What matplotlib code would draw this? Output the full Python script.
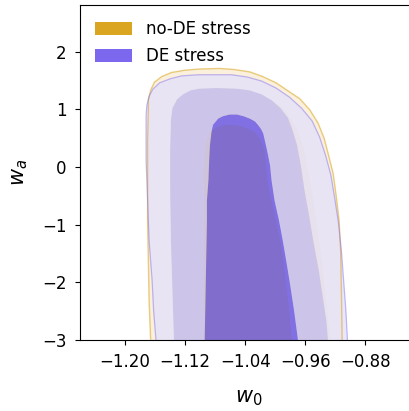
import matplotlib
matplotlib.use("Agg")
import matplotlib.pyplot as plt
from matplotlib.path import Path
from matplotlib.patches import PathPatch, Patch
from matplotlib.ticker import FixedLocator, FuncFormatter
import numpy as np

# Credible-region boundaries in the (w0, wa) plane, outer -> inner.
# Each boundary runs up the left side, over the top and down the right side;
# the regions continue below wa = -3.

# no-DE stress
nodes_outer_w0 = [-1.166, -1.166, -1.168, -1.169, -1.170, -1.170, -1.170, -1.169, -1.169,
                  -1.166, -1.161, -1.151, -1.138, -1.120, -1.100, -1.074, -1.054, -1.034,
                  -1.017, -0.999, -0.983, -0.967, -0.954, -0.943, -0.935, -0.929, -0.923,
                  -0.919, -0.915, -0.913, -0.912, -0.911, -0.911]
nodes_outer_wa = [-3.30, -2.98, -2.32, -1.62, -0.93, -0.23, 0.46, 0.99, 1.16,
                  1.33, 1.47, 1.57, 1.64, 1.68, 1.70, 1.71, 1.69, 1.65,
                  1.57, 1.46, 1.32, 1.18, 0.99, 0.76, 0.50, 0.20, -0.11,
                  -0.49, -0.93, -1.45, -2.14, -2.98, -3.30]

nodes_mid_w0 = [-1.135, -1.135, -1.137, -1.139, -1.140, -1.140, -1.139, -1.137, -1.131,
                -1.123, -1.113, -1.101, -1.078, -1.052, -1.034, -1.018, -1.005, -0.991,
                -0.981, -0.971, -0.963, -0.957, -0.951, -0.946, -0.941, -0.936, -0.932,
                -0.929, -0.927, -0.927]
nodes_mid_wa = [-3.30, -2.98, -2.14, -1.28, -0.41, 0.29, 0.81, 1.02, 1.17,
                1.26, 1.33, 1.36, 1.37, 1.36, 1.33, 1.26, 1.16, 1.04,
                0.88, 0.67, 0.38, 0.03, -0.41, -0.84, -1.31, -1.80, -2.32,
                -2.67, -2.98, -3.30]

nodes_inner_w0 = [-1.095, -1.095, -1.095, -1.095, -1.095, -1.095, -1.096, -1.095, -1.093,
                  -1.090, -1.085, -1.077, -1.067, -1.058, -1.047, -1.037, -1.030, -1.025,
                  -1.019, -1.014, -1.012, -1.010, -1.005, -0.999, -0.993, -0.989, -0.985,
                  -0.981, -0.978, -0.978]
nodes_inner_wa = [-3.30, -2.98, -2.32, -1.62, -1.10, -0.58, -0.14, 0.20, 0.41,
                  0.55, 0.64, 0.70, 0.73, 0.73, 0.72, 0.67, 0.63, 0.58,
                  0.46, 0.29, 0.03, -0.23, -0.58, -0.93, -1.28, -1.62, -2.06,
                  -2.49, -2.98, -3.30]

# DE stress
de_outer_w0 = [-1.159, -1.159, -1.162, -1.164, -1.168, -1.170, -1.172, -1.172, -1.171,
               -1.168, -1.163, -1.154, -1.140, -1.125, -1.103, -1.081, -1.058, -1.037,
               -1.018, -0.999, -0.981, -0.965, -0.951, -0.941, -0.933, -0.926, -0.921,
               -0.916, -0.912, -0.909, -0.906, -0.904, -0.904]
de_outer_wa = [-3.30, -2.98, -2.49, -1.97, -1.28, -0.58, 0.12, 0.90, 1.07,
               1.23, 1.35, 1.46, 1.53, 1.58, 1.60, 1.60, 1.60, 1.56,
               1.49, 1.37, 1.21, 1.02, 0.80, 0.52, 0.20, -0.14, -0.53,
               -0.96, -1.45, -1.97, -2.49, -2.98, -3.30]

de_mid_w0 = [-1.135, -1.135, -1.137, -1.139, -1.140, -1.140, -1.139, -1.137, -1.131,
             -1.123, -1.113, -1.101, -1.078, -1.052, -1.034, -1.018, -1.005, -0.993,
             -0.983, -0.977, -0.971, -0.966, -0.961, -0.955, -0.949, -0.942, -0.936,
             -0.932, -0.930, -0.930]
de_mid_wa = [-3.30, -2.98, -2.14, -1.28, -0.41, 0.29, 0.81, 1.02, 1.17,
             1.26, 1.33, 1.36, 1.37, 1.36, 1.33, 1.26, 1.16, 1.02,
             0.85, 0.64, 0.38, 0.03, -0.41, -0.84, -1.31, -1.80, -2.32,
             -2.67, -2.98, -3.30]

de_inner_w0 = [-1.094, -1.094, -1.093, -1.092, -1.091, -1.091, -1.089, -1.088, -1.087,
               -1.085, -1.083, -1.076, -1.070, -1.061, -1.051, -1.042, -1.034, -1.027,
               -1.023, -1.019, -1.016, -1.013, -1.010, -1.007, -1.005, -1.001, -0.995,
               -0.990, -0.985, -0.980, -0.975, -0.970, -0.970]
de_inner_wa = [-3.30, -2.98, -2.32, -1.62, -0.93, -0.58, -0.23, 0.12, 0.38,
               0.60, 0.73, 0.84, 0.88, 0.91, 0.91, 0.88, 0.84, 0.79,
               0.73, 0.66, 0.58, 0.41, 0.23, 0.03, -0.23, -0.58, -0.93,
               -1.28, -1.66, -2.06, -2.49, -2.98, -3.30]

series_labels = ["no-DE stress", "DE stress"]
x_ticks = [-1.20, -1.12, -1.04, -0.96, -0.88]
y_ticks = [-3, -2, -1, 0, 1, 2]

GOLD = "#DAA520"
PURPLE = "#7B68EE"


def _ring(xs, ys, ccw=True):
    v = np.column_stack([xs, ys]).astype(float)
    area = 0.5 * np.sum(v[:, 0] * np.roll(v[:, 1], -1) - np.roll(v[:, 0], -1) * v[:, 1])
    if (area > 0) != ccw:
        v = v[::-1]
    v = np.vstack([v, v[:1]])
    codes = [Path.MOVETO] + [Path.LINETO] * (len(v) - 2) + [Path.CLOSEPOLY]
    return v, codes


def region(ax, outer, inner, color, alpha, z):
    v, c = _ring(*outer, ccw=True)
    if inner is not None:
        vi, ci = _ring(*inner, ccw=False)
        v = np.vstack([v, vi])
        c = c + ci
    ax.add_patch(PathPatch(Path(v, c), facecolor=color, alpha=alpha,
                           edgecolor="none", lw=0, zorder=z))


fig = plt.figure(figsize=(4.09, 4.11), dpi=100)
ax = fig.add_axes([80 / 409, 71 / 411, 338 / 409, 335 / 411])

# no-DE stress regions (underneath)
g_out = (nodes_outer_w0, nodes_outer_wa)
g_mid = (nodes_mid_w0, nodes_mid_wa)
g_in = (nodes_inner_w0, nodes_inner_wa)
region(ax, g_out, g_mid, "#FAF0DC", 1.0, 1)
region(ax, g_mid, g_in, "#F3E1B9", 1.0, 1)
region(ax, g_in, None, "#F5D76E", 1.0, 1)

# DE stress regions (on top, translucent)
p_out = (de_outer_w0, de_outer_wa)
p_mid = (de_mid_w0, de_mid_wa)
p_in = (de_inner_w0, de_inner_wa)
region(ax, p_out, p_mid, "#E5E2FB", 0.8, 2)
region(ax, p_mid, p_in, "#C4BFF6", 0.8, 2)
region(ax, p_in, None, "#5040F5", 0.7, 2)

# outer contour lines
ax.plot(nodes_outer_w0, nodes_outer_wa, color=GOLD, lw=1.0, alpha=0.55, zorder=3)
ax.plot(de_outer_w0, de_outer_wa, color=PURPLE, lw=0.9, alpha=0.45, zorder=3)

ax.set_xlim(-1.26, -0.81)
ax.set_ylim(-3.0, 2.81)
ax.xaxis.set_major_locator(FixedLocator(x_ticks))
ax.xaxis.set_major_formatter(FuncFormatter(lambda v, _: f"{v:.2f}".replace("-", "\u2212")))
ax.yaxis.set_major_locator(FixedLocator(y_ticks))
ax.tick_params(labelsize=12, pad=6)
ax.set_xlabel(r"$w_0$", fontsize=15, labelpad=12)
ax.set_ylabel(r"$w_a$", fontsize=15, labelpad=9)

handles = [Patch(facecolor=GOLD, edgecolor="none", label=series_labels[0]),
           Patch(facecolor=PURPLE, edgecolor="none", label=series_labels[1])]
ax.legend(handles=handles, loc="upper left", frameon=False, fontsize=12,
          handlelength=2.2, handleheight=0.85, handletextpad=0.85, labelspacing=0.55)

fig.savefig("out.png", dpi=100)
